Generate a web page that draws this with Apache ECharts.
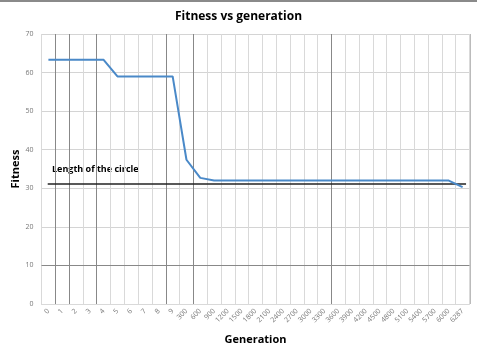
<!DOCTYPE html>
<html>
<head>
<meta charset="utf-8">
<script src="https://cdn.jsdelivr.net/npm/echarts@6/dist/echarts.min.js"></script>
<style>html,body{margin:0;padding:0;background:#fff}#c{width:477px;height:353px}</style>
</head>
<body>
<div id="c"></div>
<script>
const generations = ['0','1','2','3','4','5','6','7','8','9','300','600','900','1200','1500','1800','2100','2400','2700','3000','3300','3600','3900','4200','4500','4800','5100','5400','5700','6000','6287'];
const fitness = [63.3,63.3,63.3,63.3,63.3,59,59,59,59,59,37.4,32.7,32,32,32,32,32,32,32,32,32,32,32,32,32,32,32,32,32,32,30.3];
const circleLength = 31.3;
const circleLabel = 'Length of the circle';
const yTicks = [0,10,20,30,40,50,60,70];

const chart = echarts.init(document.getElementById('c'), null, {renderer:'canvas'});
const n = generations.length;
chart.setOption({
  animation:false,
  backgroundColor:'#fff',
  title:{text:'Fitness vs generation',left:'center',top:6,
    textStyle:{fontFamily:'Open Sans',fontSize:12,fontWeight:'bold',color:'#000'}},
  grid:{left:41.5,right:7.5,top:34,bottom:49,containLabel:false,outerBoundsMode:'none'},
  xAxis:[{
    type:'category',data:generations,boundaryGap:true,
    name:'Generation',nameLocation:'middle',nameGap:30,
    nameTextStyle:{fontFamily:'Open Sans',fontSize:11,fontWeight:'bold',color:'#000'},
    axisLine:{show:true,lineStyle:{color:'#d9d9d9'}},
    axisTick:{show:false},
    axisLabel:{interval:0,rotate:45,fontSize:7,color:'#777',margin:6,fontFamily:'Open Sans'},
    splitLine:{show:true,interval:0,lineStyle:{color:'#d9d9d9',width:1}}
  },{
    type:'value',min:0,max:n,show:false,position:'top'
  }],
  yAxis:{
    type:'value',min:yTicks[0],max:yTicks[yTicks.length-1],interval:10,
    name:'Fitness',nameLocation:'middle',nameGap:20,nameRotate:90,nameMoveOverlap:false,
    nameTextStyle:{fontFamily:'Open Sans',fontSize:11,fontWeight:'bold',color:'#000'},
    axisLine:{show:false},axisTick:{show:false},
    axisLabel:{fontSize:7,color:'#777',margin:8,fontFamily:'Open Sans'},
    splitLine:{lineStyle:{color:'#d4d4d4',width:1}}
  },
  series:[{
    type:'line',data:fitness,symbol:'none',
    lineStyle:{color:'#4a89c8',width:2},
    z:5
  },{
    type:'line',xAxisIndex:1,data:[],symbol:'none',silent:true,
    markLine:{symbol:'none',silent:true,label:{show:false},
      lineStyle:{color:'#888',width:1,type:'solid'},
      data:[1,2,4,9,11,21].map(v=>({xAxis:v})).concat([{yAxis:10}])
    },
    z:3
  },{
    type:'line',xAxisIndex:1,data:[],symbol:'none',silent:true,
    markLine:{symbol:'none',silent:true,
      lineStyle:{color:'#222',width:1.5,type:'solid'},
      label:{show:false},
      data:[[{coord:[0.45,circleLength]},{coord:[30.75,circleLength]}]]
    },
    z:4
  }],
  graphic:[
    {type:'text',left:52,top:165,style:{text:circleLabel,fontFamily:'Open Sans',fontSize:9,fontWeight:'bold',fill:'#000'}},
    {type:'rect',left:0,top:0,shape:{width:477,height:2},style:{fill:'#8a8a8a'}},
    {type:'rect',left:469,top:34,shape:{width:2,height:270},style:{fill:'#bbb'}}
  ]
});
</script>
</body>
</html>
